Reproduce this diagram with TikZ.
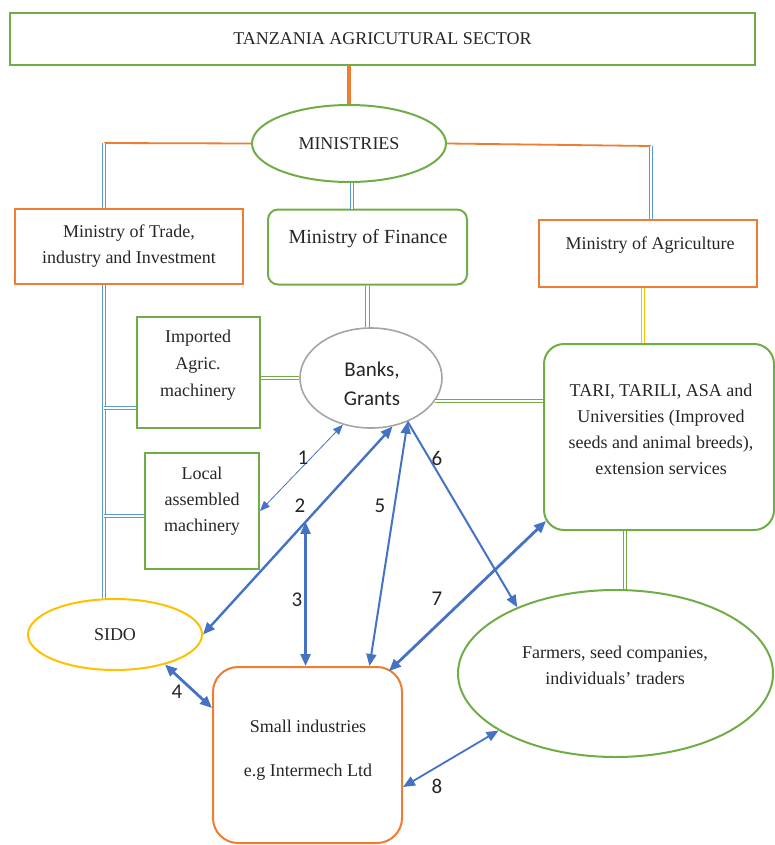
\documentclass[tikz,border=0pt]{standalone}
\usepackage{fontspec}
\setmainfont{Liberation Serif}
\newfontfamily\calibri{Carlito}
\usetikzlibrary{shapes.geometric,arrows.meta}
\definecolor{boxgreen}{HTML}{70AD47}
\definecolor{boxorange}{HTML}{ED7D31}
\definecolor{boxyellow}{HTML}{FFC000}
\definecolor{ellgray}{HTML}{A5A5A5}
\definecolor{lineblue}{HTML}{5B9BD5}
\definecolor{arrowblue}{HTML}{4472C4}
\definecolor{textgray}{HTML}{262626}
\begin{document}
\begin{tikzpicture}[x=1pt,y=-1pt,
    txt/.style={font=\fontsize{18}{26}\selectfont,align=center,text=textgray},
    box/.style={txt,draw,line width=2pt,inner sep=0pt},
    ell/.style={box,ellipse},
    dline/.style={double=white,double distance=2.2pt,line width=1.1pt},
    link/.style={draw=arrowblue,line width=2.4pt,{Triangle[length=12pt,width=10pt]}-{Triangle[length=12pt,width=10pt]}},
    oneway/.style={-{Triangle[length=12pt,width=10pt]}},
    num/.style={font=\calibri\fontsize{21}{21}\selectfont,text=textgray}]
  \useasboundingbox (0,0) rectangle (775,845);
  \node[box,draw=boxgreen,minimum width=745pt,minimum height=52pt] (sector) at (382.5,39) {TANZANIA AGRICUTURAL SECTOR};
  \node[ell,draw=boxgreen,minimum width=194pt,minimum height=77pt] (ministries) at (349,143.5) {MINISTRIES};
  \node[box,draw=boxorange,minimum width=228pt,minimum height=75pt] (trade) at (129,246.5) {Ministry of Trade,\\industry and Investment};
  \node[box,draw=boxgreen,rounded corners=10pt,minimum width=199pt,minimum height=75pt] (finance) at (367.5,247) {};
  \node[txt,font=\fontsize{20}{24}\selectfont] (financetxt) at (368,239) {Ministry of Finance};
  \node[box,draw=boxorange,minimum width=218pt,minimum height=67pt] (agri) at (648,253.5) {};
  \node[txt] (agritxt) at (650,245) {Ministry of Agriculture};
  \node[box,draw=boxgreen,minimum width=123pt,minimum height=111pt] (imported) at (198.5,372.5) {};
  \node[txt,font=\fontsize{18}{27}\selectfont] (importedtxt) at (198,365) {Imported\\Agric.\\machinery};
  \node[ell,draw=ellgray,line width=1.6pt,minimum width=142pt,minimum height=100pt] (banks) at (371,378) {};
  \node[txt,font=\calibri\fontsize{21}{29}\selectfont] (bankstxt) at (372,384) {Banks,\\Grants};
  \node[box,draw=boxgreen,minimum width=114pt,minimum height=116pt] (local) at (202,511) {};
  \node[txt] (localtxt) at (202,501) {Local\\assembled\\machinery};
  \node[box,draw=boxgreen,rounded corners=20pt,minimum width=230pt,minimum height=186pt] (tari) at (659,437) {};
  \node[txt] (taritxt) at (661,429) {TARI, TARILI, ASA and\\Universities (Improved\\seeds and animal breeds),\\extension services};
  \node[ell,draw=boxyellow,minimum width=174pt,minimum height=71pt] (sido) at (115,634.5) {SIDO};
  \node[box,draw=boxorange,rounded corners=25pt,minimum width=189pt,minimum height=176pt] (small) at (307.5,755) {};
  \node[txt,font=\fontsize{18}{44}\selectfont] (smalltxt) at (308,750) {Small industries\\e.g Intermech Ltd};
  \node[ell,draw=boxgreen,minimum width=315pt,minimum height=167pt] (farmers) at (615.5,673.5) {};
  \node[txt] (farmerstxt) at (615,665) {Farmers, seed companies,\\individuals’ traders};
  \coordinate (tl) at (104,143);
  \coordinate (tr) at (651,146);
  \coordinate (ji) at (104,408);
  \coordinate (jl) at (104,516);
  \begin{scope}[line width=1.8pt]
    \draw[boxorange,line width=3.5pt] (ministries.north |- sector.south) -- (ministries.north);
    \draw[boxorange] (ministries.west) -- (tl);
    \draw[boxorange] (ministries.east) -- (tr);
    \draw[lineblue,dline] (tl) -- (tl |- trade.north);
    \draw[lineblue,dline] (tr) -- (tr |- agri.north);
    \draw[lineblue,dline] ([xshift=3pt]ministries.south) -- ([xshift=3pt]ministries.south |- finance.north);
    \draw[lineblue,dline] (tl |- trade.south) -- (tl |- sido.north);
    \draw[lineblue,dline] (ji) -- (ji -| imported.west);
    \draw[lineblue,dline] (jl) -- (jl -| local.west);
    \draw[boxgreen,dline] (imported.east |- banks.west) -- (banks.west);
    \draw[boxgreen,dline] (finance.south) -- (finance.south |- banks.north);
    \draw[boxgreen,dline] (banks.-20 -| tari.west) -- (banks.-20);
    \draw[boxyellow,dline] ([xshift=-5pt]agri.south) -- ([xshift=-5pt]agri.south |- tari.north);
    \draw[boxgreen,dline] ([xshift=-34pt]tari.south) -- ([xshift=-34pt]tari.south |- farmers.north);
  \end{scope}
  \begin{scope}
    \draw[link,line width=0.8pt,{Triangle[length=10pt,width=8pt]}-{Triangle[length=10pt,width=8pt]}] (banks.239) -- (local.east);
    \draw[link] (banks.-66) -- coordinate[pos=0.459] (a3) (sido.east);
    \draw[link] (a3) -- (a3 |- small.north);
    \draw[link,line width=2.8pt] (sido.-31) -- ([yshift=47pt]small.west);
    \draw[link,line width=2pt] (banks.-50) -- ([xshift=62pt]small.north);
    \draw[link,line width=2pt,oneway] (banks.-50) -- (farmers.146);
    \draw[link,line width=2.8pt] ([shift={(3pt,10pt)}]tari.south west) -- ([shift={(-14pt,-5pt)}]small.north east);
    \draw[link,line width=1.8pt] (farmers.206) -- ([yshift=-32pt]small.east);
  \end{scope}
  \node[num] (n1) at (303,458) {1};
  \node[num] (n2) at (300,506) {2};
  \node[num] (n3) at (297,600) {3};
  \node[num] (n4) at (177,692) {4};
  \node[num] (n5) at (380,506) {5};
  \node[num] (n6) at (437,458) {6};
  \node[num] (n7) at (437,599) {7};
  \node[num] (n8) at (437,786) {8};
\end{tikzpicture}
\end{document}
